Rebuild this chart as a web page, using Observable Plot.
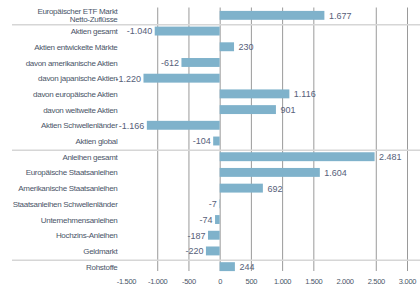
<!DOCTYPE html>
<html><head><meta charset="utf-8">
<script src="https://cdn.jsdelivr.net/npm/d3@7"></script>
<script src="https://cdn.jsdelivr.net/npm/@observablehq/plot@0.6"></script>
<style>
body{margin:0;background:#fff}
#chart svg g[aria-label="y-axis tick label"] text,
#chart svg g[aria-label="x-axis tick label"] text{letter-spacing:-0.3px}
</style>
</head><body><div id="chart"></div>
<script>
const categories = [
  "Europäischer ETF Markt\nNetto-Zuflüsse",
  "Aktien gesamt",
  "Aktien entwickelte Märkte",
  "davon amerikanische Aktien",
  "davon japanische Aktien",
  "davon europäische Aktien",
  "davon weltweite Aktien",
  "Aktien Schwellenländer",
  "Aktien global",
  "Anleihen gesamt",
  "Europäische Staatsanleihen",
  "Amerikanische Staatsanleihen",
  "Staatsanleihen Schwellenländer",
  "Unternehmensanleihen",
  "Hochzins-Anleihen",
  "Geldmarkt",
  "Rohstoffe"
];
const values = [1677, -1040, 230, -612, -1220, 1116, 901, -1166, -104, 2481, 1604, 692, -7, -74, -187, -220, 244];
const separatorsBefore = ["Aktien gesamt", "Anleihen gesamt", "Rohstoffe"];
const tickValues = [-1500, -1000, -500, 0, 500, 1000, 1500, 2000, 2500, 3000];
const gridValues = [-1000, -500, 0, 500, 1000, 1500, 2500, 3000];

const data = categories.map((c, i) => ({category: c, value: values[i]}));
const locale = d3.formatLocale({decimal: ",", thousands: ".", grouping: [3], currency: ["", "€"], minus: "-"});
const fmt = locale.format(",");

const W = 420, H = 289, mT = 7.5, mB = 14.5;
const step = (H - mT - mB) / categories.length;

const chart = Plot.plot({
  width: W, height: H,
  marginLeft: 126, marginRight: 13, marginTop: mT, marginBottom: mB,
  x: {domain: [-1500, 3000], label: null},
  y: {domain: categories, padding: 0, round: false, label: null},
  style: {fontFamily: "'Liberation Sans', Arial, sans-serif", fontSize: "8px", color: "#4a5568", background: "#fff"},
  marks: [
    Plot.ruleX(gridValues, {stroke: "#9a9a9a", strokeWidth: 1, insetBottom: 3.5}),
    Plot.ruleY(separatorsBefore, {y: d => d, dy: -step / 2 + 1, stroke: "#d6d6d6", strokeWidth: 1.5, insetLeft: -114, insetRight: -13}),
    Plot.barX(data, {x: "value", y: "category", fill: "#7fb2cb", insetTop: 3.4, insetBottom: 3.4}),
    Plot.text(data.filter(d => d.value >= 0), {x: "value", y: "category", text: d => fmt(d.value), textAnchor: "start", dx: 4, fontSize: 9, fill: "#56607a"}),
    Plot.text(data.filter(d => d.value < 0), {x: "value", y: "category", text: d => fmt(d.value), textAnchor: "end", dx: -3, fontSize: 9, fill: "#56607a"}),
    Plot.axisY({tickSize: 0, tickPadding: 9, label: null, fontSize: 8}),
    Plot.axisX({ticks: tickValues, tickFormat: fmt, tickSize: 0, tickPadding: 4, label: null, fontSize: 7.5})
  ]
});
document.getElementById("chart").appendChild(chart);
</script>
</body></html>
